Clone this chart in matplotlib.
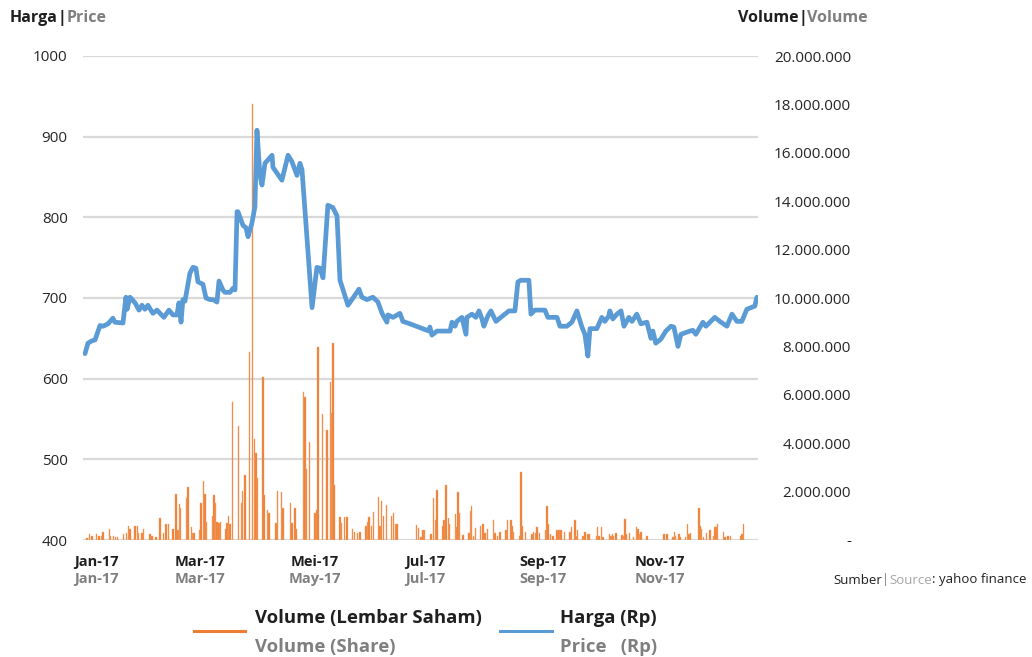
import matplotlib
matplotlib.use("Agg")
import matplotlib.pyplot as plt
from matplotlib.lines import Line2D

# ---------------- data (x = day of year 2017) ----------------
price_day = [2, 3.6, 5.8, 7.4, 10.1, 11.7, 14.4, 17.0, 18.1, 22.4, 24.0, 24.6, 26.2, 28.9, 31.0,
             32.6, 34.2, 35.8, 38.5, 40.7, 42.3, 44.4, 47.1, 49.3, 51.4, 52.5, 53.6, 54.6, 55.7,
             58.4, 60.0, 61.6, 62.7, 65.4, 67.0, 69.2, 70.8, 72.9, 74.0, 76.1, 77.2, 79.9, 81.5,
             82.6, 83.7, 84.2, 86.9, 88.5, 89.6, 91.7, 93.3, 94.4, 96.0, 97.1, 98.7, 101.4, 102.5,
             103.0, 107.8, 111.1, 113.2, 115.9, 117.5, 118.6, 124.0, 126.6, 128.2, 129.9, 132.5,
             135.2, 137.4, 139.0, 143.3, 146.0, 149.2, 150.8, 153.5, 156.7, 159.4, 161.6, 164.2,
             164.8, 167.5, 171.2, 172.8, 176.6, 186.8, 187.3, 188.4, 191.1, 198.1, 199.2, 200.8,
             201.8, 204.5, 206.7, 207.2, 209.9, 212.0, 213.7, 215.3, 216.3, 218.5, 220.1, 222.8,
             226.5, 229.8, 233.0, 234.6, 236.2, 240.5, 241.6, 243.7, 249.1, 250.7, 255.6, 257.2,
             260.9, 263.6, 266.3, 269.0, 270.6, 272.2, 273.3, 277.0, 279.7, 281.3, 283.5, 284.0,
             285.6, 287.8, 290.0, 291.6, 294.2, 295.9, 298.5, 300.7, 303.9, 306.1, 307.1, 308.7,
             311.4, 314.1, 316.8, 318.4, 320.6, 322.2, 327.0, 328.6, 330.2, 334.0, 335.6, 340.4,
             343.1, 346.9, 349.6, 352.3, 354.9, 357.6, 361.9, 363.0]
price_val = [631, 644, 647, 648, 666, 665, 668, 675, 670, 669, 701, 686, 701, 694, 685,
             691, 686, 691, 681, 685, 681, 676, 685, 679, 679, 694, 670, 698, 696,
             731, 738, 737, 720, 717, 700, 698, 698, 695, 721, 710, 707, 707, 712,
             710, 807, 807, 790, 787, 776, 793, 813, 908, 852, 840, 867, 874, 877,
             862, 846, 877, 869, 852, 867, 859, 688, 738, 737, 725, 815,
             812, 802, 722, 691, 700, 711, 701, 698, 701, 695, 681, 670,
             679, 676, 681, 671, 668, 659, 664, 654, 659, 659, 670, 665,
             671, 676, 655, 676, 680, 676, 684, 674, 665, 678, 684, 671,
             678, 684, 684, 720, 722, 722, 680, 685, 685, 676, 676, 665,
             665, 670, 684, 664, 655, 628, 662, 662, 676, 671, 678, 684,
             674, 680, 684, 665, 676, 671, 680, 668, 670, 650, 659, 644,
             649, 659, 665, 664, 640, 655, 659, 660, 655, 670, 665, 676,
             671, 665, 680, 671, 671, 686, 690, 701]

vol_day = [3.2, 4.3, 5.8, 8.3, 9.5, 10.8, 11.8, 15.1, 15.8, 17.2, 18.3, 19.4, 22.6, 24.4, 25.3,
           26.2, 29.0, 30.1, 30.8, 32.6, 33.3, 36.9, 38.0, 40.1, 42.3, 44.1, 45.5, 47.0, 49.4,
           50.9, 51.9, 52.7, 53.4, 56.6, 57.3, 59.1, 59.9, 60.6, 63.6, 64.3, 65.6, 66.5, 67.4,
           70.6, 71.3, 72.0, 72.8, 74.1, 74.9, 77.7, 78.4, 79.2, 79.9, 81.3, 84.6, 86.0, 86.7,
           88.1, 90.5, 92.0, 93.0, 93.9, 94.6, 97.6, 98.3, 100.1, 100.8, 104.6, 105.5, 107.7,
           108.5, 112.5, 113.2, 114.8, 115.5, 119.5, 120.2, 121.1, 122.7, 125.7, 126.6, 127.3,
           129.7, 132.0, 133.8, 134.5, 135.2, 135.9, 139.0, 139.9, 141.3, 142.7, 145.8, 146.7,
           148.5, 149.7, 153.0, 153.9, 154.6, 156.0, 156.9, 159.6, 160.5, 161.4, 162.3, 163.9,
           166.8, 167.8, 168.9, 169.6, 180.2, 181.1, 182.5, 183.6, 184.3, 187.9, 189.3, 190.4,
           191.1, 194.3, 195.0, 195.9, 197.2, 197.9, 201.1, 201.8, 202.5, 203.3, 205.1, 208.3,
           209.0, 209.7, 210.8, 211.9, 214.4, 215.8, 216.9, 218.3, 221.5, 222.3, 223.7, 225.1,
           228.3, 229.1, 230.8, 231.5, 232.3, 235.5, 236.2, 236.9, 238.7, 242.3, 243.0, 244.1,
           244.8, 246.3, 249.5, 250.2, 250.9, 252.0, 253.4, 255.6, 256.6, 257.7, 259.5, 262.7,
           263.4, 265.2, 265.9, 266.6, 269.5, 270.6, 272.0, 272.7, 276.7, 277.4, 278.1, 279.6,
           280.3, 283.9, 284.6, 285.3, 286.0, 287.4, 290.6, 291.4, 292.1, 292.8, 294.6, 296.7,
           298.4, 299.2, 300.0, 300.7, 303.9, 313.2, 314.6, 317.9, 318.6, 319.3, 321.1, 321.8,
           324.7, 325.8, 326.5, 327.2, 331.8, 332.5, 333.3, 334.3, 335.8, 337.9, 339.7, 340.4,
           341.1, 341.9, 345.1, 345.8, 347.6, 348.7, 354.4, 355.1, 355.9]
vol_val = [95, 235, 180, 250, 180, 180, 340, 455, 180, 180, 110, 110, 235, 300, 590,
           455, 590, 590, 300, 300, 455, 250, 180, 125, 900, 300, 650, 650, 455,
           1900, 410, 1490, 1310, 1720, 2200, 525, 300, 300, 410, 1540, 2440, 1900, 760,
           1000, 1850, 1540, 760, 715, 760, 455, 690, 1000, 650, 5690, 4710, 1540, 2020,
           2690, 7760, 18000, 4170, 3580, 2570, 6750, 1860, 1240, 1130, 715, 2020, 1970,
           1310, 1540, 715, 1310, 455, 6100, 5920, 2930, 4060, 1130, 1240, 7960,
           5210, 4550, 6520, 5260, 8130, 2270, 940, 715, 940, 940, 455, 340,
           300, 340, 590, 760, 940, 590, 1170, 1790, 590, 1610, 990, 1430,
           990, 1100, 660, 660, 620, 480, 125, 410, 410, 235, 1720, 830,
           2070, 580, 830, 2270, 900, 650, 1060, 525, 1970, 1130, 205, 275,
           1200, 1420, 165, 480, 580, 650, 275, 455, 830, 275, 165, 340,
           410, 830, 830, 580, 340, 165, 2800, 580, 340, 235, 340, 275,
           525, 275, 410, 1420, 670, 235, 165, 410, 410, 410, 340, 340,
           525, 830, 165, 410, 165, 340, 235, 235, 165, 525, 165, 525,
           110, 235, 165, 235, 165, 275, 205, 165, 880, 235, 275, 110,
           525, 455, 235, 340, 165, 235, 235, 110, 340, 165, 235, 110,
           110, 670, 235, 275, 1310, 580, 455, 110, 275, 410, 165, 525,
           525, 650, 340, 110, 165, 165, 165, 235, 670]
vol_val = [v * 1000 for v in vol_val]

month_labels_id = ["Jan-17", "Mar-17", "Mei-17", "Jul-17", "Sep-17", "Nov-17"]
month_labels_en = ["Jan-17", "Mar-17", "May-17", "Jul-17", "Sep-17", "Nov-17"]
month_label_day = [8.4, 63.8, 125.6, 184.7, 248.0, 311.0]

price_ticks = [400, 500, 600, 700, 800, 900, 1000]
vol_ticks = [0, 2e6, 4e6, 6e6, 8e6, 10e6, 12e6, 14e6, 16e6, 18e6, 20e6]

# ---------------- styling ----------------
plt.rcParams['font.family'] = ['Open Sans', 'DejaVu Sans']
W, H = 1032, 657
BLUE = '#5B9BD5'
ORANGE = '#ED7D31'
DARK = '#1F1F1F'
TICK = '#262626'
GRAY = '#7F7F7F'
GRID = '#D9D9D9'

fig = plt.figure(figsize=(W / 100, H / 100), dpi=100)
rect = [83 / W, 1 - 540 / H, (758 - 83) / W, (540 - 56) / H]

ax_p = fig.add_axes(rect)
ax_v = ax_p.twinx()
ax_l = ax_p.twinx()
ax_p.set_zorder(1)
ax_v.set_zorder(2)
ax_l.set_zorder(3)
for a in (ax_v, ax_l):
    a.patch.set_visible(False)

xlim = (0.93, 363.6)
for a in (ax_p, ax_v, ax_l):
    a.set_xlim(*xlim)
    for s in a.spines.values():
        s.set_visible(False)

# price axis (left) with grid
ax_p.set_ylim(400, 1000)
ax_p.set_yticks(price_ticks)
ax_p.set_yticklabels([str(t) for t in price_ticks])
ax_p.yaxis.set_ticks_position('left')
ax_p.tick_params(axis='y', length=0, pad=11, labelsize=11, labelcolor=TICK)
ax_p.set_xticks([])
for t in price_ticks:
    ax_p.axhline(t, color=GRID, lw=1.6, zorder=0)

# volume axis (right)
ax_v.set_ylim(0, 20e6)
ax_v.bar(vol_day, vol_val, width=0.8, color=ORANGE, edgecolor='#F4A872', linewidth=0.3)
ax_v.set_yticks(vol_ticks)
ax_v.set_yticklabels(['-' if t == 0 else f"{int(t):,}".replace(',', '.') for t in vol_ticks])
ax_v.tick_params(axis='y', length=0, pad=67, labelsize=11, labelcolor=TICK)
for lab in ax_v.get_yticklabels():
    lab.set_horizontalalignment('right')
ax_v.set_xticks([])

# price line
ax_l.set_ylim(400, 1000)
ax_l.plot(price_day, price_val, color=BLUE, lw=3.4, solid_joinstyle='round', solid_capstyle='round')
ax_l.set_yticks([])
ax_l.set_xticks([])

# month labels (two lines)
xt = ax_p.get_xaxis_transform()
for d, a, b in zip(month_label_day, month_labels_id, month_labels_en):
    ax_p.text(d, -22 / 484, a, transform=xt, ha='center', va='center', fontsize=10.5,
              fontweight='bold', color=DARK, clip_on=False)
    ax_p.text(d, -39 / 484, b, transform=xt, ha='center', va='center', fontsize=10.5,
              fontweight='bold', color=GRAY, clip_on=False)

renderer = fig.canvas.get_renderer()


def rich(x_px, y_px, pieces, size, weight='normal'):
    x = x_px
    for s, c, w in pieces:
        t = fig.text(x / W, 1 - y_px / H, s, color=c, fontsize=size,
                     fontweight=w, ha='left', va='center')
        x += t.get_window_extent(renderer).width
    return x


rich(10, 18, [("Harga", DARK, 'bold'), ("|", DARK, 'bold'), ("Price", GRAY, 'bold')], 11.5)
rich(738, 18, [("Volume", DARK, 'bold'), ("|", DARK, 'bold'), ("Volume", GRAY, 'bold')], 11.5)
rich(833, 580, [("Sumber", DARK, 'normal'), ("|", GRAY, 'normal'), ("Source", '#A6A6A6', 'normal'),
                (": yahoo finance", DARK, 'normal')], 9.5)

# legend
fig.add_artist(Line2D([194 / W, 245 / W], [1 - 631 / H] * 2, color=ORANGE, lw=2.2))
fig.add_artist(Line2D([500 / W, 552 / W], [1 - 631 / H] * 2, color=BLUE, lw=2.2))
fig.text(255 / W, 1 - 618 / H, "Volume (Lembar Saham)", fontsize=13.3, fontweight='bold',
         color=DARK, ha='left', va='center')
fig.text(255 / W, 1 - 647 / H, "Volume (Share)", fontsize=13.3, fontweight='bold',
         color=GRAY, ha='left', va='center')
fig.text(560 / W, 1 - 618 / H, "Harga (Rp)", fontsize=13.3, fontweight='bold',
         color=DARK, ha='left', va='center')
fig.text(560 / W, 1 - 647 / H, "Price   (Rp)", fontsize=13.3, fontweight='bold',
         color=GRAY, ha='left', va='center')

fig.savefig("out.png", dpi=100)
